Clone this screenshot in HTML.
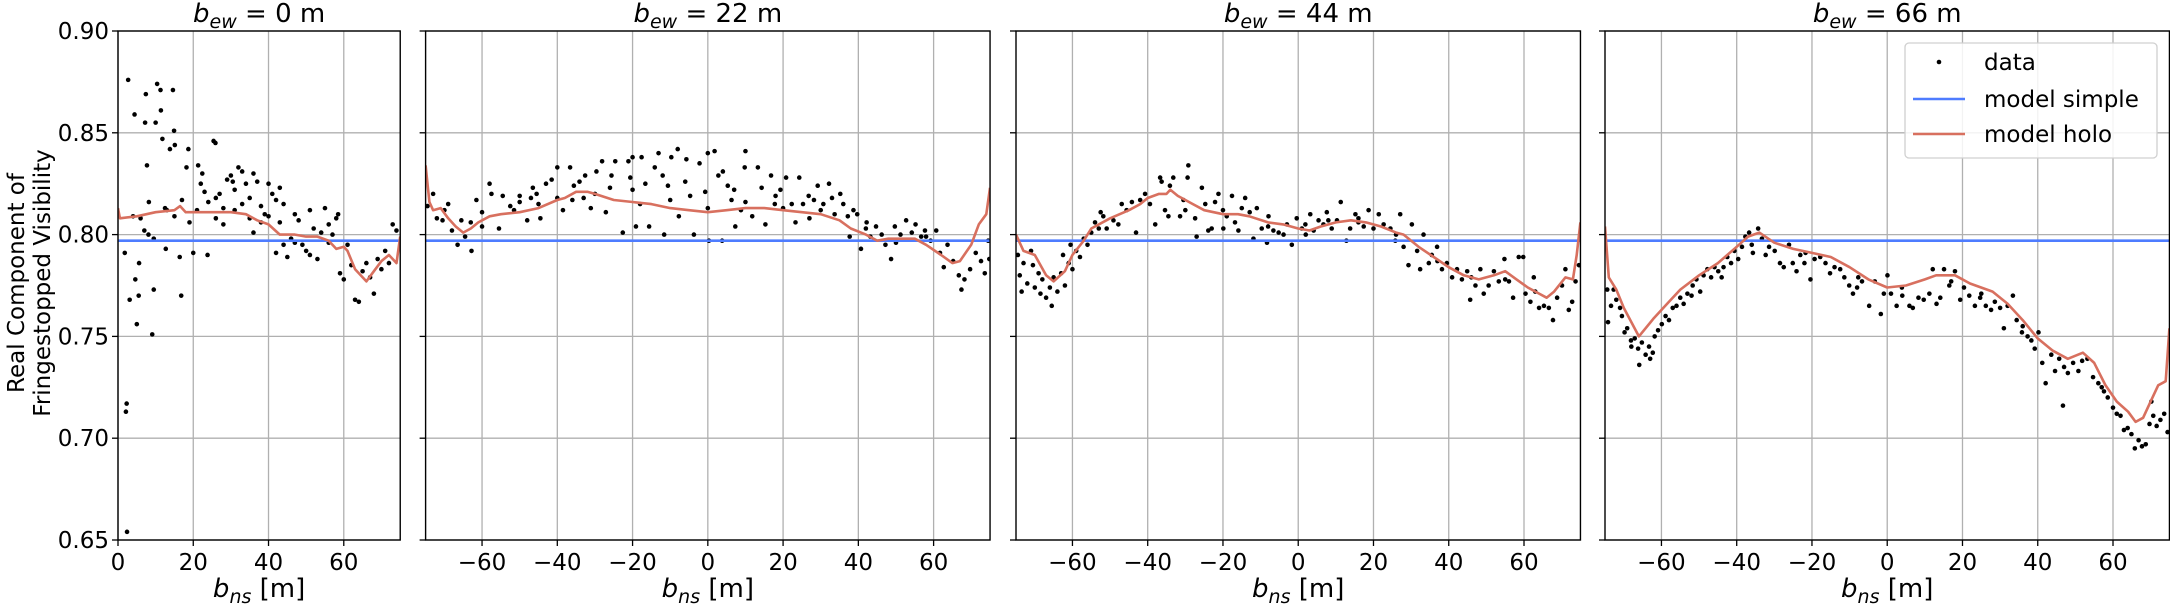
<!DOCTYPE html>
<html><head><meta charset="utf-8">
<style>
html,body{margin:0;padding:0;background:#fff;}
svg{display:block;font-family:"DejaVu Sans","Liberation Sans",sans-serif;}
</style></head>
<body>
<svg id="chart" width="2170" height="605" viewBox="0 0 2170 605" xmlns="http://www.w3.org/2000/svg">
<g font-size="23" fill="#000" text-anchor="middle">
<text transform="translate(24,283) rotate(-90)">Real Component of</text>
<text transform="translate(50,283) rotate(-90)">Fringestopped Visibility</text>
</g>
</svg>
<script>
const yTicks = [0.65, 0.70, 0.75, 0.80, 0.85, 0.90];
const yTickLabels = ["0.65","0.70","0.75","0.80","0.85","0.90"];
const panelTitles = ["0", "22", "44", "66"];
const modelSimple = 0.797;

const p1Holo = [[0,.813],[0.5,.808],[5,.809],[10,.811],[15,.812],[16.5,.814],[18,.811],[25,.811],[30,.811],[34,.810],[37,.807],[40,.805],[43,.800],[47,.800],[50,.799],[53,.799],[56,.797],[58,.793],[60,.794],[61,.792],[63,.783],[66,.777],[68,.782],[70,.787],[72,.790],[73,.788],[74,.786],[75,.799]];
const p2Holo = [[-75,.834],[-74,.816],[-73,.812],[-71,.813],[-69,.808],[-67,.804],[-65,.801],[-63,.803],[-61,.806],[-58,.809],[-55,.810],[-50,.811],[-45,.813],[-40,.817],[-38,.818],[-35,.821],[-32,.821],[-30,.820],[-25,.817],[-20,.816],[-15,.815],[-10,.813],[-5,.812],[0,.811],[5,.812],[10,.813],[15,.813],[20,.812],[25,.811],[30,.810],[35,.807],[38,.803],[42,.800],[45,.797],[48,.798],[52,.798],[55,.798],[58,.795],[62,.790],[65,.786],[67,.787],[70,.795],[72,.805],[74,.810],[75,.823]];
const p3Holo = [[-75,.800],[-73,.792],[-70,.790],[-67,.780],[-65,.777],[-62,.782],[-60,.790],[-57,.797],[-55,.803],[-50,.808],[-45,.812],[-42,.815],[-40,.818],[-37,.820],[-35,.820],[-34,.822],[-32,.819],[-28,.815],[-25,.812],[-20,.810],[-16,.810],[-13,.809],[-8,.806],[-4,.805],[0,.803],[3,.802],[6,.804],[10,.806],[14,.807],[18,.806],[22,.804],[26,.801],[28,.800],[32,.794],[36,.789],[40,.784],[44,.780],[48,.778],[52,.780],[55,.782],[58,.778],[61,.774],[64,.771],[66,.769],[68,.772],[71,.779],[73,.778],[74,.790],[75,.806]];
const p4Holo = [[-75,.804],[-74,.779],[-72,.773],[-70,.764],[-66,.750],[-62,.759],[-58,.767],[-55,.773],[-50,.780],[-45,.786],[-40,.794],[-37,.799],[-34,.801],[-30,.796],[-25,.793],[-20,.791],[-15,.789],[-10,.784],[-5,.778],[0,.774],[5,.775],[10,.778],[13,.780],[18,.780],[22,.776],[28,.772],[32,.766],[36,.758],[40,.749],[44,.743],[48,.739],[52,.742],[55,.737],[58,.726],[61,.718],[64,.713],[66,.708],[68,.710],[70,.718],[72,.726],[74,.728],[75,.754]];

const p1Data = [[2.7,.876],[4.4,.859],[7.2,.855],[7.4,.869],[10.4,.874],[11.3,.871],[11.4,.861],[14.6,.871],[14.9,.851],[13.8,.842],[15.1,.844],[18.7,.842],[10,.855],[11.8,.847],[7.7,.834],[25.4,.846],[25.9,.845],[18.2,.833],[21.3,.834],[22.4,.830],[2.3,.717],[2.1,.713],[2.4,.654],[3.1,.768],[4.6,.778],[5,.756],[5.5,.770],[9.1,.751],[9.5,.773],[5.6,.786],[1.8,.791],[16.8,.770],[16.4,.789],[12.7,.793],[20,.791],[23.8,.790],[8.2,.816],[8.1,.800],[9.5,.798],[12.5,.813],[17,.817],[19,.806],[21,.812],[22,.825],[23,.821],[24,.816],[26,.818],[27,.820],[28,.813],[29,.827],[30,.829],[30.5,.826],[31,.822],[32,.833],[33,.831],[34,.825],[35,.818],[36,.830],[37,.826],[38,.814],[39,.810],[40,.825],[41,.820],[42,.817],[43,.823],[44,.815],[35,.808],[36,.801],[38,.806],[40,.809],[42,.791],[44,.795],[45,.789],[46,.798],[47,.810],[48,.807],[49,.795],[50,.792],[51,.812],[52,.803],[53,.788],[54,.801],[55,.813],[56,.805],[57,.800],[58,.808],[58.5,.810],[59,.781],[60,.778],[61,.795],[62,.785],[63,.768],[64,.767],[65,.782],[66,.786],[67,.779],[68,.771],[69,.788],[70,.783],[71,.792],[72,.786],[73,.805],[74,.802],[26,.808],[31,.812],[28,.805],[33,.815],[6,.808],[7,.802],[13,.812],[15,.809],[4,.809],[47,.796],[51,.790],[56,.796],[43,.806]];
const p2Data = [[-74.5,.814],[-73,.820],[-70.5,.807],[-69,.815],[-68,.802],[-66.5,.795],[-65.5,.807],[-64.5,.799],[-62.8,.792],[-61.5,.817],[-60,.804],[-58,.825],[-57.5,.820],[-55.5,.803],[-54.5,.819],[-52.5,.814],[-51.5,.812],[-50,.819],[-48,.807],[-46.5,.823],[-45.5,.820],[-44.5,.808],[-43,.825],[-41.5,.827],[-40,.833],[-38.5,.812],[-36.6,.833],[-35.6,.824],[-34.1,.826],[-32.6,.829],[-31.1,.813],[-29.6,.831],[-28.1,.836],[-27.1,.811],[-25.6,.829],[-24.6,.836],[-22.6,.801],[-21.1,.836],[-20.6,.828],[-19.1,.804],[-17.6,.838],[-16.6,.825],[-15.6,.804],[-14.1,.833],[-13.1,.840],[-11.6,.800],[-10.6,.824],[-9.7,.838],[-7.7,.809],[-5.7,.837],[-4.7,.819],[-3.7,.800],[-2.2,.835],[-0.7,.821],[0.3,.797],[1.8,.841],[2.8,.829],[3.8,.797],[5.3,.824],[6.3,.817],[7.3,.804],[8.8,.812],[9.8,.833],[11.8,.809],[13.3,.833],[14.3,.823],[15.3,.805],[16.8,.829],[17.8,.815],[19.3,.822],[20.8,.828],[22.3,.815],[23.3,.806],[24.3,.828],[25.3,.815],[26.8,.819],[28.2,.817],[29.2,.824],[30.7,.815],[32.2,.825],[33.7,.810],[35.2,.820],[37.2,.809],[37.7,.799],[38.7,.812],[39.7,.810],[40.7,.793],[42.2,.806],[43.2,.799],[44.7,.804],[46.2,.800],[47.2,.795],[48.7,.788],[49.7,.804],[51.2,.800],[52.7,.807],[54.2,.801],[55.2,.805],[56.7,.799],[57.7,.802],[59.2,.797],[60.7,.802],[61.7,.791],[62.7,.784],[63.7,.795],[65.2,.787],[66.7,.780],[67.4,.773],[68.2,.778],[69.7,.783],[71.2,.791],[72.6,.787],[73.6,.781],[74.8,.788],[74.5,.797],[-8,.842],[0,.840],[10,.841],[-20,.838],[-45,.815],[-40,.818],[-30,.820],[-20,.822],[-10,.817],[0,.813],[10,.816],[20,.813],[30,.812],[-60,.811],[-50,.816],[-70,.812],[-36,.817],[-26,.823],[-12,.829],[4,.831],[-72,.808],[-63,.806],[-47,.818],[-33,.818],[-18,.815],[-6,.826],[7,.822],[18,.819],[27,.808],[33,.818],[36,.815],[42,.803],[50,.796],[58,.799]];
const p3Data = [[-51.8,.809],[-50.9,.803],[-49.1,.807],[-47.8,.805],[-46.9,.815],[-45.6,.812],[-44.2,.816],[-43.1,.801],[-42,.817],[-40.7,.820],[-39.4,.815],[-38,.805],[-36.7,.828],[-36.3,.826],[-35.4,.812],[-34.5,.809],[-34.1,.824],[-33.2,.828],[-31.4,.809],[-30.5,.817],[-29.4,.828],[-29.2,.834],[-27.4,.808],[-27,.799],[-25.6,.823],[-24.7,.815],[-23.9,.802],[-23,.803],[-22.1,.816],[-21.2,.820],[-19.9,.803],[-19,.809],[-17.6,.819],[-16.8,.806],[-15.9,.802],[-15,.813],[-14.1,.818],[-12.9,.811],[-11.9,.798],[-11,.813],[-9.7,.803],[-8.3,.796],[-7.9,.809],[-6.6,.802],[-5.2,.801],[-3.9,.800],[-3,.805],[-1.7,.795],[-0.4,.808],[0.97,.803],[1.9,.805],[3.2,.810],[4.1,.802],[5.4,.807],[6.7,.805],[7.6,.811],[8.9,.803],[10.3,.807],[11.3,.816],[12.8,.797],[13.8,.803],[15.2,.810],[16,.806],[17.4,.804],[18.7,.812],[20,.803],[21.4,.810],[22.7,.805],[24.5,.803],[25.8,.797],[27.1,.810],[28,.794],[29.3,.785],[30.2,.805],[31.6,.792],[32.4,.783],[33.3,.800],[34.7,.786],[35.5,.790],[36.9,.794],[38.2,.783],[39.5,.786],[40.9,.779],[42.2,.783],[43.5,.778],[44.9,.782],[45.7,.768],[47.1,.775],[48.4,.783],[49.3,.771],[50.6,.775],[52,.782],[53.3,.777],[54.8,.788],[56,.777],[57.1,.769],[58.6,.789],[59.8,.789],[60.4,.771],[61.7,.767],[62.6,.779],[64,.764],[65.3,.765],[66.6,.764],[67.7,.758],[68.8,.769],[70.1,.775],[71,.783],[71.9,.763],[72.8,.767],[73.7,.777],[74.6,.785],[-74.5,.790],[-74,.780],[-73.5,.772],[-73,.786],[-72,.776],[-71,.792],[-70.5,.785],[-70,.774],[-69,.781],[-68.5,.771],[-68,.778],[-67,.769],[-66,.774],[-65.5,.765],[-65,.779],[-64,.772],[-63,.781],[-62,.775],[-61,.786],[-60,.783],[-59,.792],[-58,.789],[-57,.798],[-56,.795],[-55,.801],[-54,.806],[-53,.803],[-52.5,.811],[-60.5,.795],[-62.5,.790],[-30,.812],[-20,.812],[-8,.804],[2,.800],[8,.807],[16,.808],[26,.800],[37,.787],[46,.779],[55,.778],[63,.772]];
const p4Data = [[-74.4,.773],[-74.2,.757],[-73.4,.765],[-72.7,.773],[-72,.768],[-71,.764],[-70.5,.760],[-69.8,.752],[-69.1,.754],[-68.1,.748],[-67.1,.749],[-66.2,.744],[-65.9,.736],[-65.2,.747],[-64.2,.741],[-63.3,.745],[-62.3,.742],[-61.8,.750],[-60.9,.753],[-59.9,.756],[-58.9,.760],[-58,.758],[-57,.764],[-56,.765],[-55,.769],[-54.1,.766],[-53.1,.771],[-51.7,.775],[-50.7,.778],[-49.7,.772],[-48.8,.780],[-47.8,.783],[-46.8,.779],[-45.9,.784],[-44.9,.782],[-43.5,.784],[-42.5,.789],[-41.5,.786],[-40.6,.792],[-39.6,.788],[-38.6,.794],[-37.7,.799],[-36.7,.801],[-35.7,.791],[-34.3,.803],[-33.3,.798],[-32.3,.790],[-31.4,.794],[-29.9,.792],[-28.5,.786],[-27.5,.784],[-26.1,.795],[-25.1,.786],[-24.1,.782],[-23.1,.790],[-21.7,.791],[-20.4,.778],[-19.3,.788],[-17.8,.789],[-16.4,.786],[-15.2,.781],[-14,.784],[-12.5,.783],[-11.4,.779],[-10.1,.775],[-9.1,.771],[-7.7,.779],[-6.7,.777],[-4.8,.765],[-3.3,.777],[-1.7,.761],[-0.9,.771],[0.06,.780],[1,.771],[2.5,.765],[3.9,.774],[5.9,.765],[6.8,.764],[8.3,.769],[9.7,.768],[11.2,.771],[12.1,.783],[13.1,.766],[14.1,.769],[15.1,.783],[16.5,.775],[18,.782],[19.4,.768],[20.4,.774],[21.8,.770],[23.3,.765],[24.7,.769],[26.2,.765],[27.6,.763],[28.6,.767],[30,.764],[31,.754],[32,.765],[33.4,.770],[34.4,.758],[35.8,.752],[37.3,.750],[38.3,.748],[39.2,.744],[40.2,.752],[41.2,.737],[42.1,.727],[43.6,.741],[44.6,.733],[45.7,.739],[46.7,.716],[48,.732],[49.4,.737],[50.8,.733],[51.8,.738],[53.2,.739],[54.7,.730],[56.1,.727],[57.6,.723],[58.6,.720],[60,.715],[61,.712],[62,.711],[62.9,.704],[63.9,.705],[64.9,.702],[65.8,.695],[66.8,.699],[67.7,.696],[68.7,.697],[69.7,.707],[70.7,.711],[71.6,.706],[72.6,.709],[73.6,.712],[74.5,.703],[70.2,.718],[-52,.770],[-44,.779],[-36,.795],[-22,.786],[-8,.774],[4,.770],[17,.777],[25,.771],[36,.755],[47,.735],[57,.725],[-68,.745],[-63,.739]];

const panelData = [p1Data, p2Data, p3Data, p4Data];
const panelHolo = [p1Holo, p2Holo, p3Holo, p4Holo];
const panelXMin = [0, -75, -75, -75];
const panelXTicks = [[0,20,40,60],[-60,-40,-20,0,20,40,60],[-60,-40,-20,0,20,40,60],[-60,-40,-20,0,20,40,60]];

const NS = "http://www.w3.org/2000/svg";
const svg = document.getElementById("chart");
const panelLeft = [118, 425.6, 1016, 1605];
const PXM = 3.763, TOP = 31, BOT = 540, YMIN = 0.65, YMAX = 0.90;
function mk(tag, attrs, parent){ const e = document.createElementNS(NS, tag); for (const k in attrs) e.setAttribute(k, attrs[k]); parent.appendChild(e); return e; }
function yScale(v){ return BOT - (v - YMIN) / (YMAX - YMIN) * (BOT - TOP); }

for (let p = 0; p < 4; p++) {
  const x0 = panelLeft[p], xmin = panelXMin[p];
  const xmax = 75;
  const w = (xmax - xmin) * PXM;
  const xs = v => x0 + (v - xmin) * PXM;
  const g = mk("g", {}, svg);
  
  
  const clipId = "clip" + p;
  const cp = mk("clipPath", {id: clipId}, g);
  mk("rect", {x: x0, y: TOP, width: w, height: BOT - TOP}, cp);
  const grid = mk("g", {stroke: "#b0b0b0", "stroke-width": 1.3}, g);
  
  
  yTicks.forEach(t => mk("line", {x1: x0, x2: x0 + w, y1: yScale(t), y2: yScale(t)}, grid));
  panelXTicks[p].forEach(t => mk("line", {x1: xs(t), x2: xs(t), y1: TOP, y2: BOT}, grid));
  yTicks.forEach((t, i) => {
    mk("line", {x1: x0 - 6, x2: x0, y1: yScale(t), y2: yScale(t), stroke: "#000", "stroke-width": 1.3}, g);
    if (p === 0) {
      const tx = mk("text", {x: x0 - 9, y: yScale(t) + 8, "text-anchor": "end", "font-size": 23}, g);
      tx.textContent = yTickLabels[i];
      
      
    }
  });
  panelXTicks[p].forEach(t => {
    mk("line", {x1: xs(t), x2: xs(t), y1: BOT, y2: BOT + 6, stroke: "#000", "stroke-width": 1.3}, g);
    const tx = mk("text", {x: xs(t), y: BOT + 30, "text-anchor": "middle", "font-size": 23}, g);
    tx.textContent = t < 0 ? "\u2212" + Math.abs(t) : String(t);
    
    
  });
  const inner = mk("g", {"clip-path": "url(#" + clipId + ")"}, g);
  const dots = mk("g", {fill: "#000"}, inner);
  
  
  panelData[p].forEach(d => {
    const c = mk("circle", {cx: xs(d[0]), cy: yScale(d[1]), r: 2.3}, dots);
    
    
  });
  const bl = mk("line", {x1: x0, x2: x0 + w, y1: yScale(modelSimple), y2: yScale(modelSimple), stroke: "#4e7cff", "stroke-width": 2.6}, inner);
  
  
  const pts = panelHolo[p].map(d => xs(d[0]).toFixed(1) + "," + yScale(d[1]).toFixed(1)).join(" ");
  const rl = mk("polyline", {points: pts, fill: "none", stroke: "#d8705f", "stroke-width": 2.6, "stroke-linejoin": "round"}, inner);
  
  
  const fr = mk("rect", {x: x0, y: TOP, width: w, height: BOT - TOP, fill: "none", stroke: "#000", "stroke-width": 1.4}, g);
  
  
  const ti = mk("text", {x: x0 + w / 2, y: 22, "text-anchor": "middle", "font-size": 26}, g);
  ti.innerHTML = '<tspan font-style="italic">b</tspan><tspan font-style="italic" font-size="19" dy="6">ew</tspan><tspan dy="-6"> = ' + panelTitles[p] + ' m</tspan>';
  
  
  const xl = mk("text", {x: x0 + w / 2, y: 597, "text-anchor": "middle", "font-size": 26}, g);
  xl.innerHTML = '<tspan font-style="italic">b</tspan><tspan font-style="italic" font-size="19" dy="6">ns</tspan><tspan dy="-6"> [m]</tspan>';
  
  
}

const lg = mk("g", {}, svg);


mk("rect", {x: 1905, y: 43, width: 252, height: 115, rx: 4, fill: "#fff", "fill-opacity": 0.85, stroke: "#d0d0d0", "stroke-width": 1.3}, lg);
const lgItems = [["data", 62], ["model simple", 99], ["model holo", 134]];
mk("circle", {cx: 1939, cy: 62, r: 2.3, fill: "#000"}, lg);
mk("line", {x1: 1913, x2: 1965, y1: 99, y2: 99, stroke: "#4e7cff", "stroke-width": 2.6}, lg);
mk("line", {x1: 1913, x2: 1965, y1: 134, y2: 134, stroke: "#d8705f", "stroke-width": 2.6}, lg);
lgItems.forEach(it => {
  const t = mk("text", {x: 1984, y: it[1] + 8, "font-size": 23}, lg);
  t.textContent = it[0];
  
  
});
</script>
</body></html>
